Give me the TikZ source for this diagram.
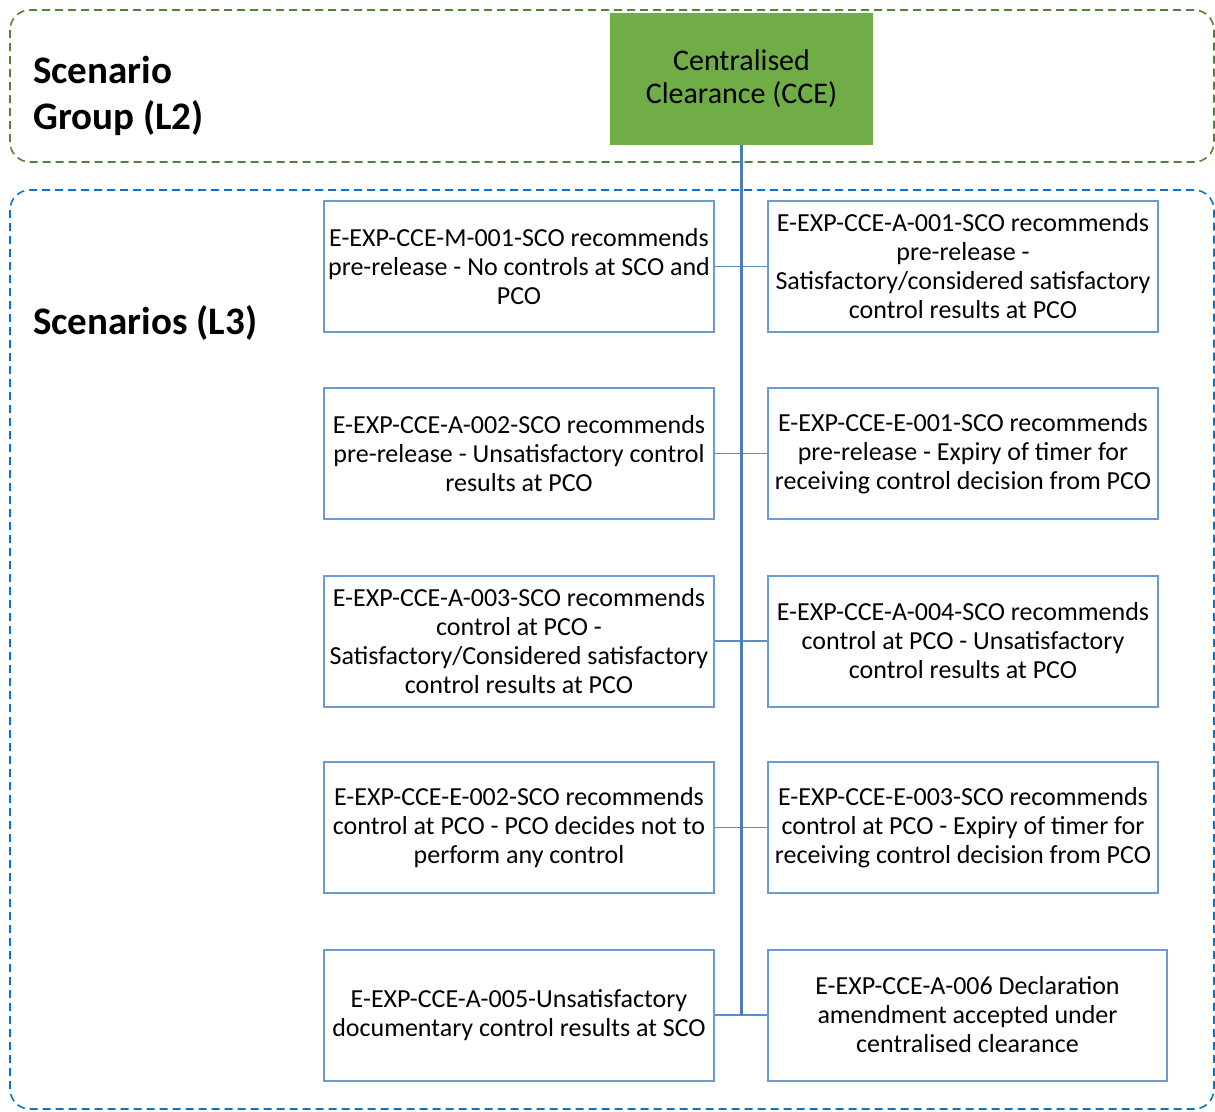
\documentclass[tikz,border=0pt]{standalone}
\usepackage{fontspec}
\setmainfont{Carlito}
\begin{document}
\begin{tikzpicture}[x=1pt,y=-1pt,
  scbox/.style={draw=boxblue,line width=2pt,rectangle,minimum width=390pt,minimum height=131pt,inner sep=0pt,align=center,font=\fontsize{26}{29}\selectfont},
  groupbox/.style={dashed,dash pattern=on 8pt off 5pt,line width=1.6pt,rounded corners=20pt},
  link/.style={draw=linkblue,line width=1.8pt},
  trunk/.style={draw=trunkblue,line width=2.4pt},
  title/.style={font=\fontsize{39}{46}\selectfont\bfseries,align=left,anchor=west,inner sep=0pt}
]
\definecolor{boxblue}{HTML}{6A9BD2}
\definecolor{linkblue}{HTML}{5B8FC8}
\definecolor{trunkblue}{HTML}{4A7EBB}
\definecolor{cgreen}{HTML}{70AD47}
\definecolor{dgreen}{HTML}{548235}
\definecolor{dblue}{HTML}{0A74C8}
\useasboundingbox (0,0) rectangle (1215,1111);
\draw[groupbox,draw=dgreen] (10,10) rectangle (1214,162);
\draw[groupbox,draw=dblue] (10,190) rectangle (1214,1109);
\node[title] (l2) at (33,96) {Scenario\\Group (L2)};
\node[title] (l3) at (33,323) {Scenarios (L3)};
\node[fill=cgreen,minimum width=263pt,minimum height=132pt,inner sep=0pt,align=center,font=\fontsize{30}{33}\selectfont] (cce) at (741.5,79) {Centralised\\Clearance (CCE)};
% boxes
\node[scbox] (l1) at (519,266.5) {E-EXP-CCE-M-001-SCO recommends\\pre-release - No controls at SCO and\\PCO};
\node[scbox] (r1) at (963,266.5) {E-EXP-CCE-A-001-SCO recommends\\pre-release -\\Satisfactory/considered satisfactory\\control results at PCO};
\node[scbox] (l2b) at (519,453.5) {E-EXP-CCE-A-002-SCO recommends\\pre-release - Unsatisfactory control\\results at PCO};
\node[scbox] (r2) at (963,453.5) {E-EXP-CCE-E-001-SCO recommends\\pre-release - Expiry of timer for\\receiving control decision from PCO};
\node[scbox] (l3b) at (519,641) {E-EXP-CCE-A-003-SCO recommends\\control at PCO -\\Satisfactory/Considered satisfactory\\control results at PCO};
\node[scbox] (r3) at (963,641) {E-EXP-CCE-A-004-SCO recommends\\control at PCO - Unsatisfactory\\control results at PCO};
\node[scbox] (l4) at (519,827.5) {E-EXP-CCE-E-002-SCO recommends\\control at PCO - PCO decides not to\\perform any control};
\node[scbox] (r4) at (963,827.5) {E-EXP-CCE-E-003-SCO recommends\\control at PCO - Expiry of timer for\\receiving control decision from PCO};
\node[scbox] (l5) at (519,1015) {E-EXP-CCE-A-005-Unsatisfactory\\documentary control results at SCO};
\node[scbox,minimum width=399pt] (r5) at (967.5,1015) {E-EXP-CCE-A-006 Declaration\\amendment accepted under\\centralised clearance};
% connectors
\draw[link] (l1.east) -- (r1.west);
\draw[link] (l2b.east) -- (r2.west);
\draw[link] (l3b.east) -- (r3.west);
\draw[link] (l4.east) -- (r4.west);
\draw[link] (l5.east) -- (r5.west);
\coordinate (tend) at (741.5,1015);
\draw[trunk] (cce.south) -- (tend);
\end{tikzpicture}
\end{document}
